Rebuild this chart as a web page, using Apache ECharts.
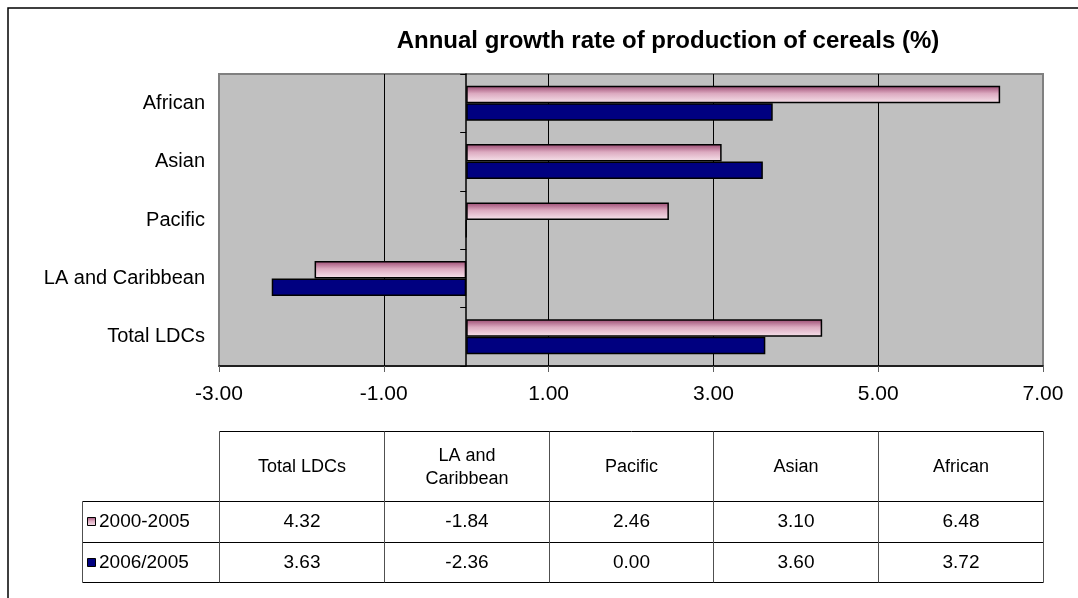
<!DOCTYPE html>
<html>
<head>
<meta charset="utf-8">
<title>Annual growth rate of production of cereals (%)</title>
<script src="https://cdn.jsdelivr.net/npm/echarts@6/dist/echarts.min.js"></script>
<style>
  html, body { margin: 0; padding: 0; background: #ffffff; }
  #chart { width: 1078px; height: 598px; }
</style>
</head>
<body>
<div id="chart"></div>
<script>
// Categories, bottom to top on the chart (and left to right in the data table)
const categories = ['Total LDCs', 'LA and Caribbean', 'Pacific', 'Asian', 'African'];
const tableHeaders = ['Total LDCs', 'LA and\nCaribbean', 'Pacific', 'Asian', 'African'];
const seriesNames = ['2000-2005', '2006/2005'];
const values2000to2005 = [4.32, -1.84, 2.46, 3.10, 6.48];
const values2006 = [3.63, -2.36, 0.00, 3.60, 3.72];
// Value axis range and tick step
const axisMin = -3;
const axisMax = 7;
const axisStep = 2;

const FONT = '"Liberation Sans", Arial, sans-serif';

function pinkGradient() {
  return new echarts.graphic.LinearGradient(0, 0, 0, 1, [
    { offset: 0, color: '#9a4770' },
    { offset: 0.45, color: '#dcaac0' },
    { offset: 1, color: '#f7e4ec' }
  ]);
}
const blueFill = '#000080';

const chart = echarts.init(document.getElementById('chart'), null, { renderer: 'canvas' });

const option = {
  animation: false,
  backgroundColor: '#ffffff',
  title: {
    text: 'Annual growth rate of production of cereals (%)',
    left: 663,
    top: 24,
    textAlign: 'center',
    textStyle: { fontFamily: FONT, fontSize: 24, fontWeight: 'bold', color: '#000' }
  },
  grid: {
    left: 219, right: 35, top: 74, bottom: 232,
    show: true,
    backgroundColor: '#c0c0c0',
    borderColor: '#808080',
    borderWidth: 2
  },
  xAxis: {
    type: 'value',
    min: axisMin, max: axisMax, interval: axisStep,
    axisLine: { show: true, lineStyle: { color: '#000', width: 1.5 } },
    axisTick: { show: true, length: 6, lineStyle: { color: '#606060' } },
    axisLabel: {
      margin: 18,
      fontFamily: FONT, fontSize: 21, color: '#000',
      formatter: v => v.toFixed(2)
    },
    splitLine: { show: true, showMinLine: false, showMaxLine: false, lineStyle: { color: '#000', width: 1 } }
  },
  yAxis: [
    {
      // category labels at the left edge of the plot
      type: 'category',
      data: categories,
      axisLine: { show: false, onZero: false },
      axisTick: { show: false },
      axisLabel: { margin: 14, fontFamily: FONT, fontSize: 20, color: '#000' },
      splitLine: { show: false }
    },
    {
      // the zero line with its category ticks
      type: 'category',
      data: categories,
      position: 'left',
      axisLine: { show: true, onZero: true, lineStyle: { color: '#000', width: 1.5 } },
      axisTick: { show: true, length: 6, lineStyle: { color: '#000' } },
      axisLabel: { show: false },
      splitLine: { show: false }
    }
  ],
  series: [
    {
      name: seriesNames[0],
      type: 'bar',
      yAxisIndex: 0,
      data: values2000to2005,
      barGap: '0%',
      barCategoryGap: '40%',
      itemStyle: { color: pinkGradient(), borderColor: '#000', borderWidth: 1.5 }
    },
    {
      name: seriesNames[1],
      type: 'bar',
      yAxisIndex: 0,
      data: values2006,
      barGap: '0%',
      barCategoryGap: '40%',
      itemStyle: { color: blueFill, borderColor: '#000', borderWidth: 1.5 }
    }
  ]
};

chart.setOption(option);

// Data table under the chart, columns aligned with the value axis ticks
function buildTable() {
  const edges = [];
  for (let v = axisMin; v <= axisMax + 1e-9; v += axisStep) {
    edges.push(Math.round(chart.convertToPixel({ xAxisIndex: 0 }, v)) + 0.5);
  }
  const left = edges[0];
  const right = edges[edges.length - 1];
  const legendLeft = 82.5;
  const yTop = 431.5, yHead = 501.5, yRow1 = 542.5, yRow2 = 582.5;
  const els = [];
  const hLine = (x1, x2, y) => els.push({
    type: 'line', silent: true,
    shape: { x1, y1: y, x2, y2: y },
    style: { stroke: '#000', lineWidth: 1 }
  });
  const vLine = (x, y1, y2) => els.push({
    type: 'line', silent: true,
    shape: { x1: x, y1, x2: x, y2 },
    style: { stroke: '#505050', lineWidth: 1 }
  });
  const text = (t, x, y, size, align) => els.push({
    type: 'text', silent: true,
    style: {
      text: t, x, y, align: align || 'center', verticalAlign: 'middle',
      font: size + 'px ' + FONT, fill: '#000', lineHeight: 23
    }
  });

  hLine(left, right, yTop);
  hLine(legendLeft, right, yHead);
  hLine(legendLeft, right, yRow1);
  hLine(legendLeft, right, yRow2);
  edges.forEach(x => vLine(x, yTop, yRow2));
  vLine(legendLeft, yHead, yRow2);

  const rows = [values2000to2005, values2006];
  const rowMid = [(yHead + yRow1) / 2, (yRow1 + yRow2) / 2];
  for (let c = 0; c < tableHeaders.length; c++) {
    const cx = (edges[c] + edges[c + 1]) / 2;
    text(tableHeaders[c], cx, (yTop + yHead) / 2 + 1, 18);
    rows.forEach((row, r) => text(row[c].toFixed(2), cx, rowMid[r], 19));
  }

  // legend keys
  const swatchFill = [pinkGradient(), blueFill];
  seriesNames.forEach((name, r) => {
    els.push({
      type: 'rect', silent: true,
      shape: { x: 87.5, y: Math.round(rowMid[r]) - 4.5, width: 8, height: 8 },
      style: { fill: swatchFill[r], stroke: '#000', lineWidth: 1 }
    });
    text(name, 99, rowMid[r], 19, 'left');
  });

  // outer frame
  els.push({
    type: 'rect', silent: true,
    shape: { x: 8, y: 8, width: 1100, height: 620 },
    style: { fill: 'none', stroke: '#000', lineWidth: 1.5 }
  });

  chart.setOption({ graphic: els });
}
buildTable();
</script>
</body>
</html>
